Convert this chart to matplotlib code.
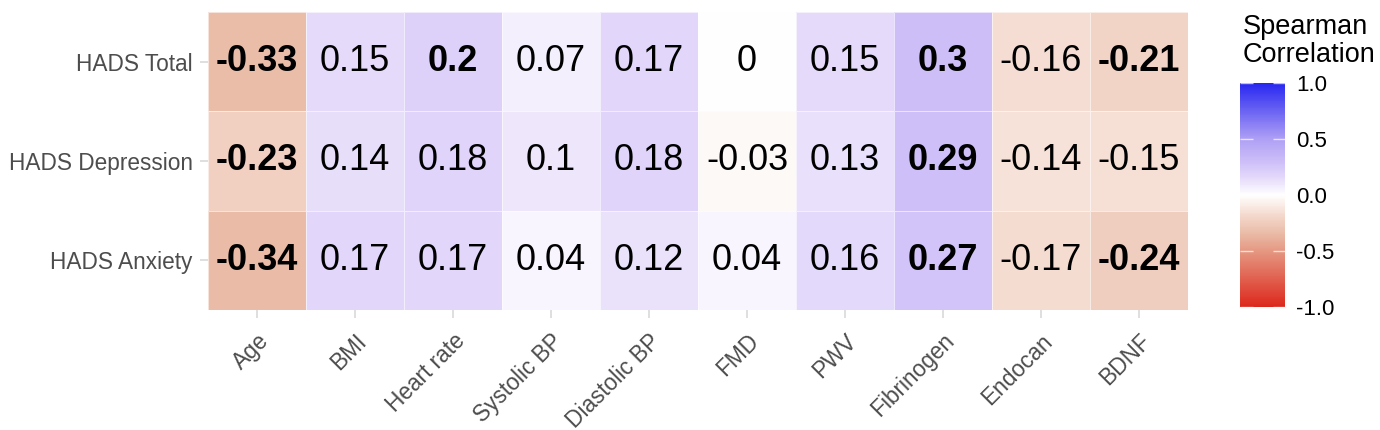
import numpy as np
import matplotlib
matplotlib.use("Agg")
import matplotlib.pyplot as plt
from matplotlib.colors import LinearSegmentedColormap, Normalize
import matplotlib.cm as cm

plt.rcParams['font.family'] = ['Liberation Sans', 'DejaVu Sans']

# datos
variables = ["Age", "BMI", "Heart rate", "Systolic BP", "Diastolic BP",
             "FMD", "PWV", "Fibrinogen", "Endocan", "BDNF"]
escalas = ["HADS Total", "HADS Depression", "HADS Anxiety"]

hads_total = [-0.33, 0.15, 0.2, 0.07, 0.17, 0, 0.15, 0.3, -0.16, -0.21]
hads_depresion = [-0.23, 0.14, 0.18, 0.1, 0.18, -0.03, 0.13, 0.29, -0.14, -0.15]
hads_ansiedad = [-0.34, 0.17, 0.17, 0.04, 0.12, 0.04, 0.16, 0.27, -0.17, -0.24]

# significativos (en negrita)
sig_total = [1, 0, 1, 0, 0, 0, 0, 1, 0, 1]
sig_depresion = [1, 0, 0, 0, 0, 0, 0, 1, 0, 0]
sig_ansiedad = [1, 0, 0, 0, 0, 0, 0, 1, 0, 1]

valores = np.array([hads_total, hads_depresion, hads_ansiedad])
signif = np.array([sig_total, sig_depresion, sig_ansiedad])

# gradiente rojo-blanco-azul (colores tomados de la figura)
anclas = [
    (-1.0, (220, 40, 28)),
    (-0.5, (229, 152, 130)),
    (-0.33, (234, 190, 170)),
    (-0.2, (243, 213, 200)),
    (0.0, (255, 255, 255)),
    (0.15, (229, 219, 250)),
    (0.3, (205, 190, 248)),
    (0.5, (175, 160, 245)),
    (1.0, (40, 40, 240)),
]
cmap = LinearSegmentedColormap.from_list(
    "rwb", [((v + 1) / 2, tuple(c / 255 for c in col)) for v, col in anclas])
norm = Normalize(-1, 1)

fig = plt.figure(figsize=(13.8, 4.3), dpi=100)
ax = fig.add_axes([208 / 1380, 1 - 310 / 430, 980 / 1380, 298 / 430])

ax.pcolormesh(np.arange(len(variables) + 1) - 0.5, np.arange(len(escalas) + 1) - 0.5,
              valores, cmap=cmap, norm=norm, edgecolors=(1, 1, 1, 0.6), linewidth=0.6)
ax.set_xlim(-0.5, len(variables) - 0.5)
ax.set_ylim(len(escalas) - 0.5, -0.5)

for i in range(len(escalas)):
    for j in range(len(variables)):
        v = valores[i, j]
        txt = "0" if v == 0 else ("%g" % v)
        ax.text(j, i, txt, ha='center', va='center', fontsize=26,
                fontweight='bold' if signif[i, j] else 'normal', color='black')

ax.set_xticks(range(len(variables)))
ax.set_xticklabels(variables, rotation=45, ha='right', rotation_mode='anchor',
                   fontsize=16.3, color='#4d4d4d')
ax.set_yticks(range(len(escalas)))
ax.set_yticklabels(escalas, fontsize=16.3, color='#4d4d4d')
ax.tick_params(axis='both', color='#d9d9d9', length=6, width=1.2)
ax.tick_params(axis='x', pad=8)
ax.tick_params(axis='y', pad=5)
for s in ax.spines.values():
    s.set_visible(False)

# barra de color
cax = fig.add_axes([1240 / 1380, 1 - 307 / 430, 45 / 1380, 224 / 430])
sm = cm.ScalarMappable(norm=norm, cmap=cmap)
cb = fig.colorbar(sm, cax=cax, ticks=[-1, -0.5, 0, 0.5, 1])
cb.outline.set_visible(False)
cb.ax.set_yticklabels(["-1.0", "-0.5", "0.0", "0.5", "1.0"])
cax.tick_params(axis='y', direction='in', left=True, right=True, length=9,
                width=1, color=(1, 1, 1, 0.7), labelsize=16, labelcolor='black', pad=8)
fig.text(1243 / 1380, 1 - 14 / 430, "Spearman\nCorrelation", ha='left', va='top',
         fontsize=19.5, linespacing=1.1)

fig.savefig("out.png", dpi=100)
